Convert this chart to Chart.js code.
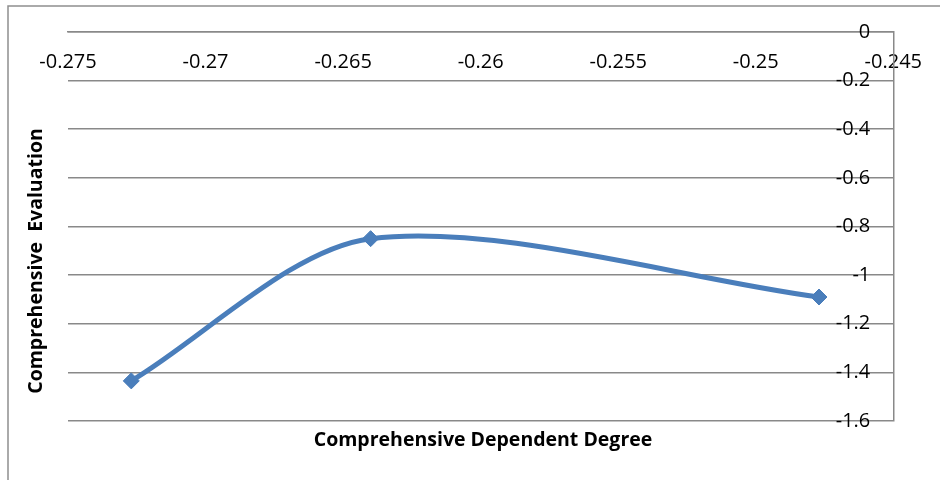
<!DOCTYPE html>
<html>
<head>
<meta charset="utf-8">
<script src="https://cdn.jsdelivr.net/npm/chart.js@4.4.0/dist/chart.umd.min.js"></script>
<style>
  html, body { margin: 0; padding: 0; background: #fff; }
  #wrap { width: 940px; height: 480px; position: relative; }
</style>
</head>
<body>
<div id="wrap"><canvas id="myChart"></canvas></div>
<script>
// data
const degree = [-0.2727, -0.2640, -0.2477];
const evaluation = [-1.435, -0.85, -1.09];
const xTicks = [-0.275, -0.27, -0.265, -0.26, -0.255, -0.25, -0.245];
const yTicks = [0, -0.2, -0.4, -0.6, -0.8, -1, -1.2, -1.4, -1.6];
const xTitle = "Comprehensive Dependent Degree";
const yTitle = "Comprehensive  Evaluation";

const points = degree.map((d, i) => ({ x: d, y: evaluation[i] }));
const gray = "#898989";
const font = "'Open Sans', 'Noto Sans', sans-serif";

// frame and axis titles
const decor = {
    id: "decor",
    beforeDraw(chart) {
        const ctx = chart.ctx;
        ctx.save();
        ctx.fillStyle = "#fff";
        ctx.fillRect(0, 0, chart.width, chart.height);
        ctx.strokeStyle = "#8f8f8f";
        ctx.lineWidth = 1.5;
        ctx.beginPath();
        ctx.moveTo(8, chart.height);
        ctx.lineTo(8, 6);
        ctx.lineTo(chart.width, 6);
        ctx.stroke();
        ctx.restore();
    },
    afterDraw(chart) {
        const ctx = chart.ctx;
        ctx.save();
        ctx.fillStyle = "#000";
        ctx.font = "bold 19.5px " + font;
        ctx.textAlign = "center";
        ctx.textBaseline = "middle";
        ctx.fillText(xTitle, 483, 440);
        ctx.translate(36, 261);
        ctx.rotate(-Math.PI / 2);
        ctx.fillText(yTitle, 0, 0);
        ctx.restore();
    }
};

const ctx = document.getElementById("myChart").getContext("2d");
const myChart = new Chart(ctx, {
    type: "scatter",
    data: {
        datasets: [{
            data: points,
            showLine: true,
            tension: 0.3,
            borderColor: "#4a7ebb",
            borderWidth: 5,
            backgroundColor: "#4a7ebb",
            pointStyle: "rectRot",
            pointRadius: 8,
            pointBorderWidth: 1,
            pointHoverRadius: 8
        }]
    },
    options: {
        responsive: true,
        maintainAspectRatio: false,
        animation: false,
        layout: { padding: { left: 68, right: 42, top: 32, bottom: 59 } },
        plugins: { legend: { display: false }, tooltip: { enabled: false } },
        scales: {
            x: {
                type: "linear",
                min: -0.275,
                max: -0.245,
                position: { y: 0 },
                afterBuildTicks: s => { s.ticks = xTicks.map(v => ({ value: v })); },
                ticks: {
                    callback: v => String(v),
                    color: "#000",
                    padding: 18,
                    maxRotation: 0,
                    autoSkip: false,
                    font: { family: font, size: 20 }
                },
                grid: { display: false, drawTicks: false },
                border: { display: true, color: gray, width: 1.5 }
            },
            y: {
                type: "linear",
                min: -1.6,
                max: 0,
                position: "right",
                afterBuildTicks: s => { s.ticks = yTicks.map(v => ({ value: v })); },
                ticks: {
                    callback: v => String(v),
                    color: "#000",
                    mirror: true,
                    padding: -23,
                    font: { family: font, size: 20 }
                },
                grid: { color: gray, lineWidth: 1.5, drawTicks: false },
                border: { display: true, color: gray, width: 1.5 }
            }
        }
    },
    plugins: [decor]
});
</script>
</body>
</html>
